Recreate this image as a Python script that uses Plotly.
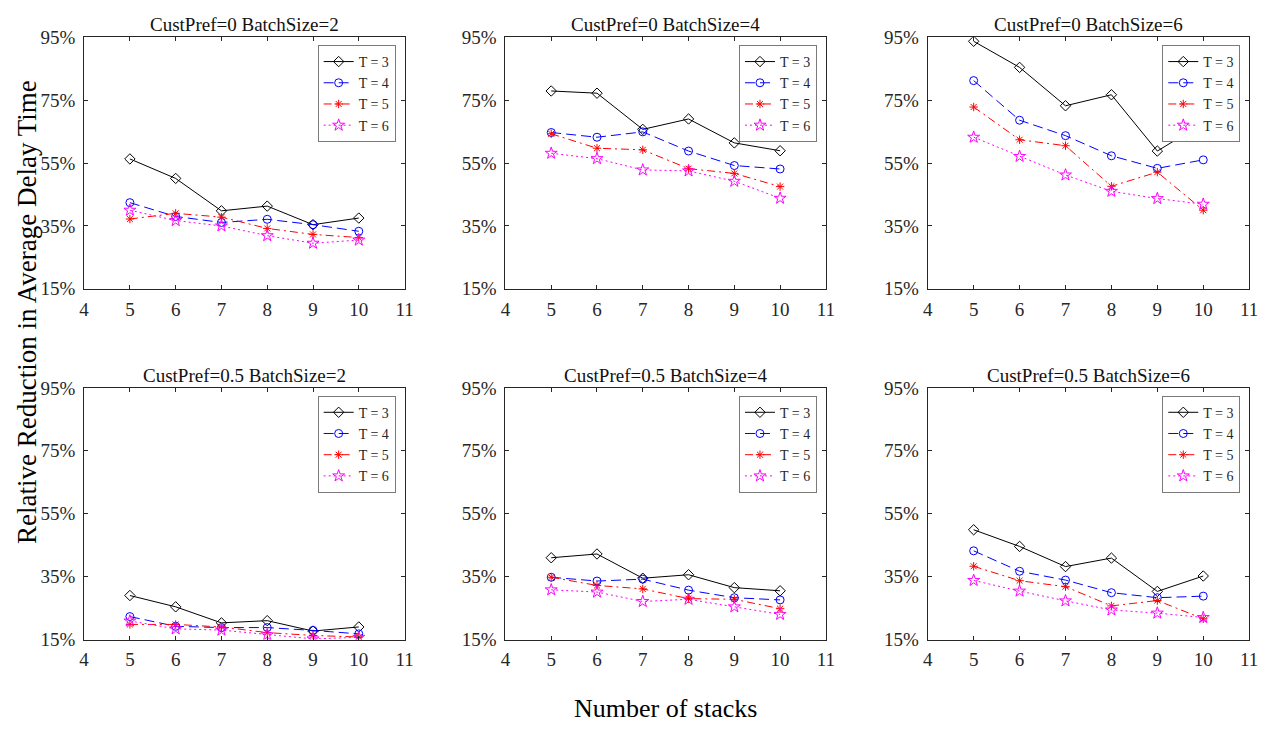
import plotly.graph_objects as go

W, H = 1274, 737

stacks = [5, 6, 7, 8, 9, 10]
series_names = ["T = 3", "T = 4", "T = 5", "T = 6"]
panel_titles = [
    "CustPref=0 BatchSize=2", "CustPref=0 BatchSize=4", "CustPref=0 BatchSize=6",
    "CustPref=0.5 BatchSize=2", "CustPref=0.5 BatchSize=4", "CustPref=0.5 BatchSize=6",
]
y_tick_values = [15, 35, 55, 75, 95]
y_tick_labels = ["15%", "35%", "55%", "75%", "95%"]
x_tick_values = [4, 5, 6, 7, 8, 9, 10, 11]

# CustPref=0, BatchSize=2
cp0_bs2_t3 = [56.3, 50.1, 39.8, 41.3, 35.4, 37.5]
cp0_bs2_t4 = [42.4, 38.0, 36.1, 37.1, 35.4, 33.3]
cp0_bs2_t5 = [37.2, 39.0, 37.8, 34.2, 32.3, 31.3]
cp0_bs2_t6 = [40.0, 36.7, 35.0, 31.9, 29.5, 30.5]
# CustPref=0, BatchSize=4
cp0_bs4_t3 = [77.9, 77.2, 65.7, 69.0, 61.4, 58.9]
cp0_bs4_t4 = [64.7, 63.2, 64.9, 58.8, 54.2, 53.1]
cp0_bs4_t5 = [64.3, 59.7, 59.2, 53.2, 51.7, 47.5]
cp0_bs4_t6 = [58.1, 56.4, 52.8, 52.5, 49.2, 43.8]
# CustPref=0, BatchSize=6
cp0_bs6_t3 = [93.7, 85.4, 73.2, 76.7, 58.8, 67.7]
cp0_bs6_t4 = [81.2, 68.6, 63.7, 57.3, 53.3, 56.0]
cp0_bs6_t5 = [72.8, 62.4, 60.5, 47.6, 52.1, 40.0]
cp0_bs6_t6 = [63.2, 57.1, 51.2, 46.0, 43.7, 41.9]
# CustPref=0.5, BatchSize=2
cp05_bs2_t3 = [29.0, 25.4, 20.3, 21.0, 17.7, 19.0]
cp05_bs2_t4 = [22.3, 19.2, 18.8, 18.8, 17.9, 16.8]
cp05_bs2_t5 = [19.8, 19.8, 19.0, 17.2, 16.3, 15.8]
cp05_bs2_t6 = [20.9, 18.4, 18.0, 16.5, 15.2, 15.7]
# CustPref=0.5, BatchSize=4
cp05_bs4_t3 = [41.0, 42.2, 34.5, 35.6, 31.5, 30.5]
cp05_bs4_t4 = [34.8, 33.6, 34.2, 30.7, 28.3, 27.6]
cp05_bs4_t5 = [34.8, 32.2, 31.1, 28.0, 27.8, 24.8]
cp05_bs4_t6 = [30.8, 30.1, 27.1, 27.8, 25.4, 23.0]
# CustPref=0.5, BatchSize=6
cp05_bs6_t3 = [49.9, 44.6, 38.2, 40.9, 30.3, 35.2]
cp05_bs6_t4 = [43.2, 36.7, 33.9, 29.9, 28.3, 28.8]
cp05_bs6_t5 = [38.3, 33.7, 31.8, 25.7, 27.4, 21.6]
cp05_bs6_t6 = [33.8, 30.4, 27.3, 24.4, 23.4, 22.0]

panels = [
    [cp0_bs2_t3, cp0_bs2_t4, cp0_bs2_t5, cp0_bs2_t6],
    [cp0_bs4_t3, cp0_bs4_t4, cp0_bs4_t5, cp0_bs4_t6],
    [cp0_bs6_t3, cp0_bs6_t4, cp0_bs6_t5, cp0_bs6_t6],
    [cp05_bs2_t3, cp05_bs2_t4, cp05_bs2_t5, cp05_bs2_t6],
    [cp05_bs4_t3, cp05_bs4_t4, cp05_bs4_t5, cp05_bs4_t6],
    [cp05_bs6_t3, cp05_bs6_t4, cp05_bs6_t5, cp05_bs6_t6],
]

line_colors = ["#000000", "#0000ff", "#ff0000", "#ff00ff"]
line_dashes = ["solid", "10px,5px", "8px,4px,2px,4px", "2px,3px"]
marker_symbols = ["diamond-open", "circle-open", "asterisk-open", "star-open"]
marker_sizes = [8, 8, 7, 9]

FONT = "Liberation Serif"
TXT = "#262626"

# pixel boxes of the six axes: (left, right) and (top, bottom)
col_px = [(80, 404), (506, 830), (933, 1258)]
row_px = [(28, 287), (389, 648)]

fig = go.Figure()
layout = dict(
    width=W, height=H,
    margin=dict(l=0, r=0, t=0, b=0),
    paper_bgcolor="white", plot_bgcolor="white",
    font=dict(family=FONT, color=TXT, size=18),
    showlegend=True,
)
annotations = []

for p in range(6):
    r, c = divmod(p, 3)
    l, rt = col_px[c]
    tp, bt = row_px[r]
    ax = "" if p == 0 else str(p + 1)
    xref = "x" + ax
    yref = "y" + ax
    leg = "legend" + ax
    for s in range(4):
        fig.add_trace(go.Scatter(
            x=stacks, y=panels[p][s], name=series_names[s],
            mode="lines+markers",
            line=dict(color=line_colors[s], width=1, dash=line_dashes[s]),
            marker=dict(symbol=marker_symbols[s], size=marker_sizes[s],
                        color=line_colors[s], line=dict(width=1, color=line_colors[s])),
            xaxis=xref, yaxis=yref, legend=leg,
        ))
    axis_common = dict(
        showgrid=False, zeroline=False, showline=True, linecolor=TXT, linewidth=1,
        mirror="ticks", ticks="inside", ticklen=4, tickcolor=TXT, tickwidth=1,
        tickfont=dict(family=FONT, size=19, color=TXT),
    )
    layout["xaxis" + ax] = dict(
        axis_common, domain=[l / W, rt / W], range=[4, 11],
        tickmode="array", tickvals=x_tick_values,
        ticktext=[str(v) for v in x_tick_values], anchor=yref,
        ticklabelstandoff=3,
    )
    layout["yaxis" + ax] = dict(
        axis_common, domain=[1 - bt / H, 1 - tp / H], range=[15, 95],
        tickmode="array", tickvals=y_tick_values, ticktext=y_tick_labels, anchor=xref,
        ticklabelstandoff=4,
    )
    layout[leg] = dict(
        x=(rt - 9) / W, y=1 - (tp + 8) / H, xanchor="right", yanchor="top",
        xref="paper", yref="paper",
        bgcolor="white", bordercolor="#7a7a7a", borderwidth=1,
        font=dict(family=FONT, size=14, color=TXT),
        itemwidth=30, tracegroupgap=0,
    )
    annotations.append(dict(
        text=panel_titles[p], x=(l + rt) / 2 / W, y=1 - (tp - 13) / H,
        xref="paper", yref="paper", xanchor="center", yanchor="middle",
        showarrow=False, font=dict(family=FONT, size=19, color="#111111"),
    ))

annotations.append(dict(
    text="Relative Reduction in Average Delay Time", x=22 / W, y=1 - 311 / H,
    xref="paper", yref="paper", xanchor="center", yanchor="middle", textangle=-90,
    showarrow=False, font=dict(family=FONT, size=27, color="#000000"),
))
annotations.append(dict(
    text="Number of stacks", x=668 / W, y=1 - 719 / H,
    xref="paper", yref="paper", xanchor="center", yanchor="middle",
    showarrow=False, font=dict(family=FONT, size=26, color="#000000"),
))
layout["annotations"] = annotations

fig.update_layout(**layout)
fig.write_html("out.html")
